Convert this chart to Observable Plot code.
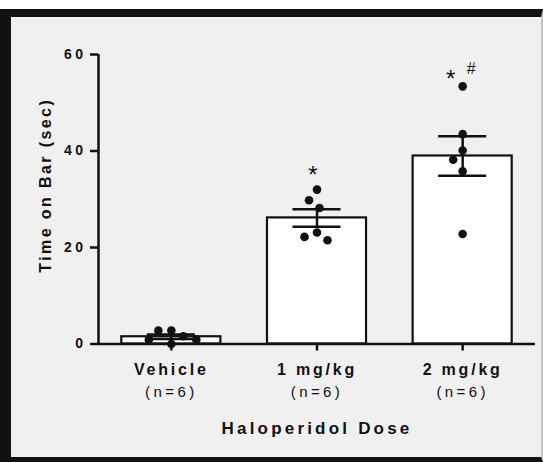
<!DOCTYPE html>
<html><head><meta charset="utf-8">
<script src="https://cdn.jsdelivr.net/npm/d3@7"></script>
<script src="https://cdn.jsdelivr.net/npm/@observablehq/plot@0.6"></script>
<style>
html,body{margin:0;padding:0;background:#fff;}
#frame{position:absolute;left:0;top:9px;width:543px;height:453px;box-sizing:border-box;border-top:8px solid #111;border-left:11px solid #111;border-bottom:5px solid #111;border-right:2px solid #c4c4c4;background:#f0f0f0;}
#chart svg{display:block;}
</style></head><body><div id="frame"><div id="chart"></div></div>
<script>
const doses = ["Vehicle", "1 mg/kg", "2 mg/kg"];
const groupSizes = ["(n=6)", "(n=6)", "(n=6)"];
const vehicle = [2.8, 0.9, 0.0, 0.9, 1.6, 2.8];
const dose1 = [32.0, 29.8, 28.2, 23.1, 21.5, 22.2];
const dose2 = [53.4, 43.5, 40.1, 38.2, 35.8, 22.8];
const yTicks = [0, 20, 40, 60];
const yTitle = "Time on Bar (sec)";
const xTitle = "Haloperidol Dose";
// significance markers: group index, symbol, height (sec)
const star1 = [{i: 1, text: "*", y: 35.0}];
const star2 = [{i: 2, text: "*", y: 54.8}];
const hash2 = [{i: 2, text: "#", y: 57.1}];

const series = [vehicle, dose1, dose2];
const summary = series.map((v, i) => {
  const m = d3.mean(v), se = d3.deviation(v) / Math.sqrt(v.length);
  return {i, mean: m, lo: m - se, hi: m + se};
});

const base = {
  width: 530, height: 440,
  marginLeft: 87, marginRight: 6, marginTop: 37, marginBottom: 113.5,
  x: {domain: [-0.5, 2.5]},
  y: {domain: [0, 60]}
};

// probe scales to lay out a beeswarm of the points
const probe = Plot.plot({...base, marks: [Plot.dot(vehicle, {x: () => 0, y: d => d})]});
const sx = probe.scale("x"), sy = probe.scale("y");
const pxPerUnit = sx.apply(1) - sx.apply(0);

function swarm(values, D) {
  const placed = [], out = [];
  const order = d3.range(values.length).sort((a, b) => values[b] - values[a]);
  for (const k of order) {
    const py = sy.apply(values[k]);
    let best = null;
    for (let s = 0; s <= 400 && best === null; s++) {
      const cands = s === 0 ? [0] : [-s * 0.5, s * 0.5];
      for (const o of cands) {
        if (placed.every(p => Math.hypot(p.x - o, p.y - py) >= D)) { best = o; break; }
      }
    }
    placed.push({x: best, y: py});
    out[k] = best;
  }
  return out;
}

const points = series.flatMap((v, i) => {
  const offs = swarm(v, 13);
  return v.map((value, k) => ({i, value, x: i + offs[k] / pxPerUnit}));
});

const plot = Plot.plot({
  ...base,
  style: {background: "transparent", fontFamily: "'Liberation Sans', Arial, sans-serif", color: "#111"},
  marks: [
    Plot.rectY(summary, {x1: d => d.i - 0.34, x2: d => d.i + 0.34, y1: 0, y2: "mean", fill: "white", stroke: "#111", strokeWidth: 2.2}),
    Plot.ruleX(summary, {x: "i", y1: "lo", y2: "hi", stroke: "#111", strokeWidth: 2.5}),
    Plot.ruleY(summary, {y: "hi", x1: d => d.i - 0.165, x2: d => d.i + 0.165, stroke: "#111", strokeWidth: 2.5}),
    Plot.ruleY(summary, {y: "lo", x1: d => d.i - 0.165, x2: d => d.i + 0.165, stroke: "#111", strokeWidth: 2.5}),
    Plot.dot(points, {x: "x", y: "value", r: 4.3, fill: "#111"}),
    Plot.ruleY([0], {stroke: "#111", strokeWidth: 2.5}),
    Plot.ruleX([-0.5], {stroke: "#111", strokeWidth: 2.5}),
    Plot.axisY({ticks: yTicks, tickSize: 8, tickPadding: 4, strokeWidth: 2.5, label: null}),
    Plot.axisX({ticks: [0, 1, 2], tickSize: 7, strokeWidth: 2.5, tickFormat: () => "", label: null}),
    Plot.text(doses, {x: (d, i) => i, text: d => d, frameAnchor: "bottom", lineAnchor: "top", dy: 20, fontSize: 16, fontWeight: "bold"}),
    Plot.text(groupSizes, {x: (d, i) => i, text: d => d, frameAnchor: "bottom", lineAnchor: "top", dy: 42.5, fontSize: 15}),
    Plot.text([xTitle], {text: d => d, frameAnchor: "bottom", lineAnchor: "top", dy: 78, fontSize: 17, fontWeight: "bold"}),
    Plot.text([yTitle], {text: d => d, frameAnchor: "left", textAnchor: "middle", rotate: -90, dx: -53, dy: -14, fontSize: 16, fontWeight: "bold"}),
    Plot.text(star1, {x: "i", y: "y", text: "text", dx: -4, fontSize: 24}),
    Plot.text(star2, {x: "i", y: "y", text: "text", dx: -12, fontSize: 24}),
    Plot.text(hash2, {x: "i", y: "y", text: "text", dx: 8.5, fontSize: 16})
  ]
});

// typographic styling (letter spacing) of the text groups, in mark order
const svg = d3.select(plot);
svg.selectAll('g[aria-label="y-axis tick label"]')
  .attr("font-size", 14).attr("font-weight", "bold").style("letter-spacing", "3.5px");
const textGroups = svg.selectAll('g[aria-label="text"]').nodes();
const spacing = ["2.8px", "3.4px", "3.2px", "2.4px"];
spacing.forEach((s, k) => { if (textGroups[k]) textGroups[k].style.letterSpacing = s; });
document.getElementById("chart").append(plot);
</script></body></html>
